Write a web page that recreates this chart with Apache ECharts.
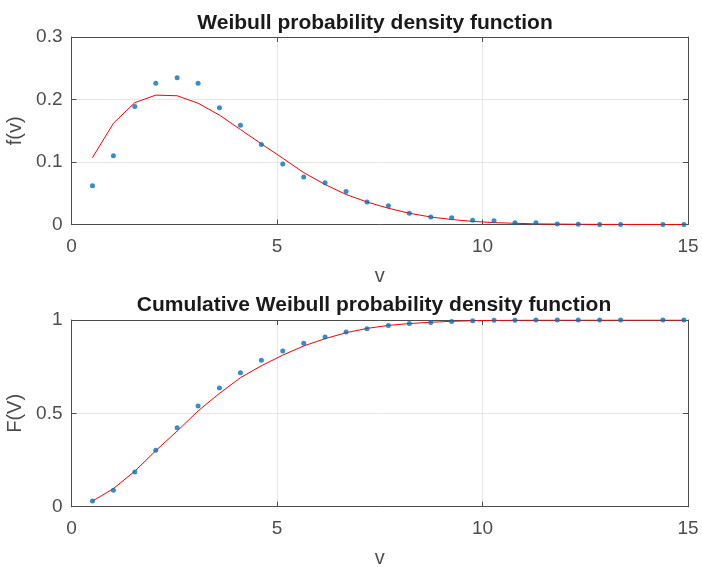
<!DOCTYPE html>
<html><head><meta charset="utf-8">
<script src="https://cdn.jsdelivr.net/npm/echarts@6/dist/echarts.min.js"></script>
<style>html,body{margin:0;padding:0;background:#fff}#c{width:702px;height:567px}</style>
</head><body><div id="c"></div>
<script>
const xv = [0.51,1.02,1.54,2.05,2.57,3.08,3.60,4.11,4.62,5.14,5.65,6.17,6.68,7.19,7.71,8.22,8.74,9.25,9.76,10.28,10.79,11.30,11.82,12.33,12.85,13.36,14.39,14.90];
const pdfDots = [0.062,0.110,0.189,0.226,0.235,0.226,0.187,0.159,0.128,0.097,0.076,0.067,0.053,0.036,0.030,0.018,0.012,0.011,0.007,0.006,0.003,0.003,0.001,0.0005,0.0002,0.0002,0.0001,0.0001];
const pdfLine = [0.107,0.162,0.195,0.207,0.206,0.194,0.175,0.152,0.129,0.106,0.083,0.064,0.048,0.036,0.026,0.018,0.012,0.008,0.005,0.003,0.002,0.001,0.0007,0.0004,0.0002,0.0001,0.00003,0.00001];
const cdfDots = [0.031,0.088,0.186,0.302,0.423,0.539,0.636,0.718,0.784,0.834,0.875,0.909,0.936,0.953,0.970,0.981,0.987,0.992,0.996,0.998,0.999,0.9995,1,1,1,1,1,1];
const cdfLine = [0.030,0.097,0.190,0.300,0.405,0.513,0.607,0.691,0.755,0.812,0.861,0.900,0.932,0.955,0.971,0.981,0.988,0.993,0.996,0.998,0.999,0.9995,0.9998,0.9999,1,1,1,1];
const titles = ['Weibull probability density function','Cumulative Weibull probability density function'];
const yNames = ['f(v)','F(V)'];
const xName = 'v';

const pair = (a,b) => a.map((x,i)=>[x,b[i]]);
const FONT = 'Liberation Sans';
const AX = '#4d4d4d';
const grids = [
  {left:71.5, right:14, top:37, height:187.5, outerBoundsMode:'none', containLabel:false},
  {left:71.5, right:14, top:320, height:186.7, outerBoundsMode:'none', containLabel:false}
];
const yCfg = [{min:0,max:0.3,interval:0.1},{min:0,max:1,interval:0.5}];
const xAxis=[], yAxis=[];
for (let g=0; g<2; g++){
  xAxis.push({type:'value',gridIndex:g,min:0,max:15,interval:5,position:'bottom',
    name:xName,nameLocation:'middle',nameGap:42,
    nameTextStyle:{fontFamily:FONT,fontSize:20,color:AX},
    axisLine:{show:true,onZero:false,lineStyle:{color:AX,width:1}},
    axisTick:{show:true,inside:true,length:5,lineStyle:{color:AX}},
    axisLabel:{fontFamily:FONT,fontSize:19,color:AX,margin:13},
    splitLine:{show:true,lineStyle:{color:'#e6e6e6',width:1}}});
  xAxis.push({type:'value',gridIndex:g,min:0,max:15,interval:5,position:'top',
    axisLine:{show:true,onZero:false,lineStyle:{color:AX,width:1}},
    axisTick:{show:true,inside:true,length:5,lineStyle:{color:AX}},
    axisLabel:{show:false},splitLine:{show:false}});
  yAxis.push(Object.assign({type:'value',gridIndex:g,position:'left',
    name:yNames[g],nameLocation:'middle',nameGap:46,nameRotate:90,
    nameTextStyle:{fontFamily:FONT,fontSize:20,color:AX},
    axisLine:{show:true,onZero:false,lineStyle:{color:AX,width:1}},
    axisTick:{show:true,inside:true,length:5,lineStyle:{color:AX}},
    axisLabel:{fontFamily:FONT,fontSize:19,color:AX,margin:9},
    splitLine:{show:true,lineStyle:{color:'#e6e6e6',width:1}}}, yCfg[g]));
  yAxis.push(Object.assign({type:'value',gridIndex:g,position:'right',
    axisLine:{show:true,onZero:false,lineStyle:{color:AX,width:1}},
    axisTick:{show:true,inside:true,length:5,lineStyle:{color:AX}},
    axisLabel:{show:false},splitLine:{show:false}}, yCfg[g]));
}
const series = [
  {type:'line',xAxisIndex:0,yAxisIndex:0,data:pair(xv,pdfLine),showSymbol:false,symbol:'none',lineStyle:{color:'#ff0000',width:1},z:2,animation:false},
  {type:'scatter',xAxisIndex:0,yAxisIndex:0,data:pair(xv,pdfDots),symbol:'circle',symbolSize:5,itemStyle:{color:'#0072bd'},z:3,animation:false},
  {type:'line',xAxisIndex:2,yAxisIndex:2,data:pair(xv,cdfLine),showSymbol:false,symbol:'none',lineStyle:{color:'#ff0000',width:1},z:2,animation:false},
  {type:'scatter',xAxisIndex:2,yAxisIndex:2,data:pair(xv,cdfDots),symbol:'circle',symbolSize:5,itemStyle:{color:'#0072bd'},z:3,animation:false}
];
const chart = echarts.init(document.getElementById('c'),null,{renderer:'canvas'});
chart.setOption({
  animation:false,
  backgroundColor:'#ffffff',
  title:[
    {text:titles[0],left:370,top:7.5,textAlign:'center',textStyle:{fontFamily:FONT,fontSize:21,fontWeight:'bold',color:'#1a1a1a'}},
    {text:titles[1],left:369,top:289.5,textAlign:'center',textStyle:{fontFamily:FONT,fontSize:21,fontWeight:'bold',color:'#1a1a1a'}}
  ],
  grid:grids, xAxis:xAxis, yAxis:yAxis, series:series
});
</script></body></html>
